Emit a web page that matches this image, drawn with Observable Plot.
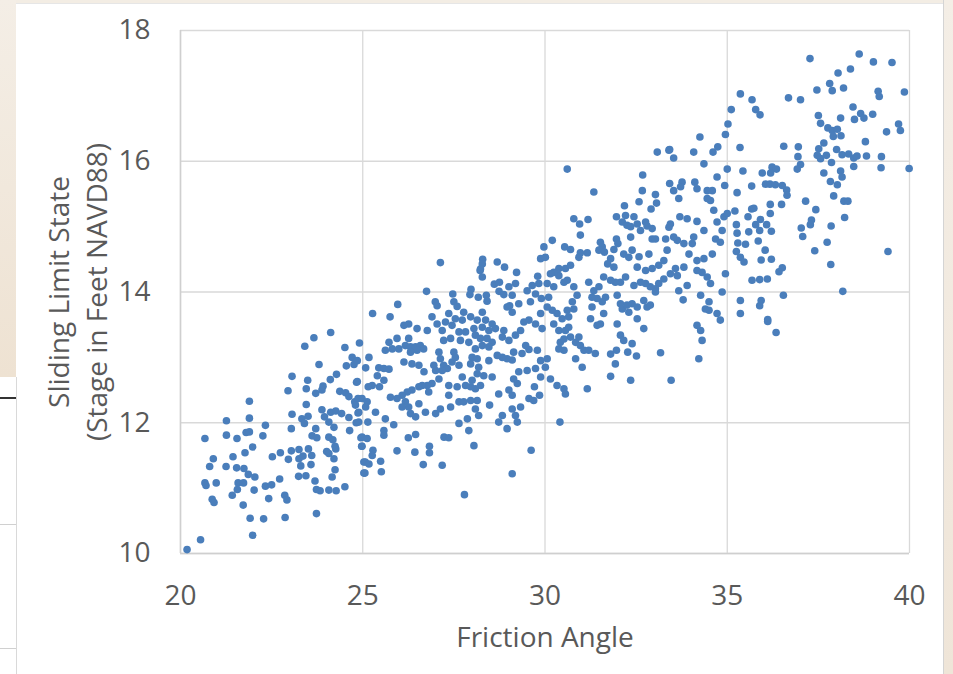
<!DOCTYPE html>
<html>
<head>
<meta charset="utf-8">
<script src="https://cdn.jsdelivr.net/npm/d3@7"></script>
<script src="https://cdn.jsdelivr.net/npm/@observablehq/plot@0.6"></script>
<style>
  html, body { margin: 0; padding: 0; }
  body { width: 953px; height: 674px; position: relative; overflow: hidden; background: #ffffff; font-family: "Open Sans", sans-serif; }
  .deco { position: absolute; }
  #chart { position: absolute; left: 0; top: 0; }
</style>
</head>
<body>
<div class="deco" style="left:0;top:0;width:953px;height:3px;background:#f3ede4;"></div>
<div class="deco" style="left:0;top:0;width:16px;height:377px;background:linear-gradient(to bottom,#f4eee6,#eee2d2);"></div>
<div class="deco" style="left:944px;top:0;width:9px;height:674px;background:linear-gradient(to bottom,#f4eee6,#efe5d8);"></div>
<div class="deco" style="left:943px;top:0;width:1px;height:674px;background:#d4d4d4;"></div>
<div class="deco" style="left:16px;top:3px;width:927px;height:1px;background:#e6e6e6;"></div>
<div class="deco" style="left:16px;top:377px;width:1px;height:297px;background:#d9d9d9;"></div>
<div class="deco" style="left:0;top:397px;width:16px;height:2px;background:#333333;"></div>
<div class="deco" style="left:0;top:524px;width:16px;height:1px;background:#d0d0d0;"></div>
<div class="deco" style="left:0;top:648px;width:16px;height:1px;background:#d0d0d0;"></div>
<div id="chart"></div>
<script>
// Tick values
const xTicks = [20, 25, 30, 35, 40];
const yTicks = [10, 12, 14, 16, 18];
const xTitle = "Friction Angle";
const yTitle = "Sliding Limit State\n(Stage in Feet NAVD88)";

// [friction angle, sliding limit state], by region
const lowerLeft = [
[20.18,10.06],[20.55,10.21],[20.67,11.76],[20.90,11.45],[20.80,11.33],[20.67,11.08],[20.70,11.04],[20.98,11.08],[20.87,10.83],[20.92,10.78],
[21.26,12.03],[21.26,11.81],[21.55,11.76],[21.44,11.48],[21.25,11.33],[21.54,11.31],[21.74,11.30],[21.58,11.08],[21.73,11.08],[21.56,10.98],
[21.42,10.89],[21.72,10.74],[21.86,11.21],[22.04,11.17],[22.02,10.97],[21.91,10.54],[21.98,10.28],[22.28,10.53],[21.89,12.33],[21.89,12.07],
[21.80,11.85],[21.89,11.86],[21.98,11.63],[21.77,11.54],[22.33,11.96],[22.26,11.80],[22.52,11.48],[22.74,11.54],[22.33,11.03],[22.50,11.05],
[22.72,11.14],[22.42,10.84],[22.86,10.89],[22.92,10.82],[22.87,10.55],[22.96,11.44],[23.06,12.71],[22.95,12.49],[23.06,12.13],[23.04,11.91],
[23.04,11.57],[23.25,11.59],[23.25,11.45],[23.36,11.49],[23.30,11.34],[23.24,11.18],[23.44,11.19],[23.58,11.36],[23.60,11.50],[23.51,11.60],
[23.49,12.65],[23.45,12.52],[23.45,12.28],[23.33,12.06],[23.40,11.99],[23.50,12.10],[23.71,11.91],[23.61,11.80],[23.74,11.77],[23.69,11.11],
[23.73,10.98],[23.83,10.96],[23.73,10.61],[23.71,12.45],[23.88,12.50],[23.91,12.56],[24.11,12.66],[24.28,12.74],[23.88,12.20],[23.95,12.09],
[24.12,12.16],[24.26,12.18],[24.07,12.01],[24.21,11.93],[24.07,11.78],[24.18,11.74],[24.24,11.64],[24.26,11.60],[24.01,11.56],[24.07,11.53],
[24.21,11.45],[24.24,11.28],[24.16,11.17],[24.07,10.97],[24.27,10.96],[24.51,11.02],[24.42,12.14],[24.62,12.08],[24.64,11.88],[24.37,12.48],
[24.53,12.46],[24.62,12.40],[24.78,12.32],[24.83,12.62],[24.87,12.37],[24.87,12.15],[24.82,12.00],[24.95,11.77],[24.97,11.64],[25.03,11.40],[25.03,11.23],
[24.12,13.38],[23.66,13.30],[23.41,13.17],[24.51,13.15],[24.71,13.00],[24.55,12.87],[24.76,12.89],[23.80,12.89]
];

const middle = [
[26.75,14.01],[27.47,13.97],[27.97,14.04],[27.94,13.96],[28.17,13.92],[28.39,13.95],[28.41,13.86],[28.22,14.33],[28.28,14.23],[28.61,14.12],
[28.75,14.15],[28.74,14.01],[28.87,13.96],[29.01,14.08],[29.19,14.13],[29.22,14.30],[29.10,13.95],[29.51,14.02],[29.65,14.10],[29.80,14.24],
[29.83,14.13],[29.74,13.97],[29.90,13.90],[29.60,13.85],[29.28,13.82],[29.03,13.79],[29.10,13.69],[28.96,13.77],[25.96,13.81],[25.27,13.67],
[25.75,13.62],[26.99,13.85],[27.04,13.79],[27.50,13.85],[27.59,13.78],[27.77,13.69],[27.36,13.67],[26.90,13.62],[27.04,13.51],[27.27,13.54],
[27.45,13.49],[27.54,13.59],[27.73,13.57],[27.96,13.62],[28.14,13.57],[28.28,13.69],[28.37,13.57],[28.55,13.51],[28.64,13.44],[28.46,13.41],
[28.28,13.46],[28.05,13.44],[27.82,13.39],[27.64,13.39],[27.18,13.41],[26.77,13.41],[26.49,13.44],[26.26,13.51],[26.13,13.49],[26.26,13.29],
[25.94,13.29],[25.72,13.23],[25.81,13.13],[25.62,13.11],[24.91,13.22],[25.17,13.00],[24.85,12.95],[25.08,12.84],[25.44,12.84],[25.58,12.83],
[25.72,12.82],[25.40,12.72],[25.58,12.65],[25.46,12.55],[25.26,12.57],[25.15,12.55],[24.85,12.63],[24.98,12.37],[25.12,12.32],[24.80,12.27],
[25.08,12.24],[25.35,12.16],[24.89,12.16],[24.89,12.01],[25.14,12.01],[25.62,12.06],[25.85,11.97],[25.58,11.88],[25.58,11.81],[24.98,11.78],
[25.12,11.76],[24.98,11.64],[25.28,11.58],[25.26,11.50],[25.07,11.40],[25.17,11.37],[25.06,11.23],[25.49,11.41],[25.51,11.25],[25.94,11.57],
[26.25,11.77],[26.45,11.82],[26.43,11.55],[26.83,11.64],[26.83,11.54],[26.66,11.36],[27.18,11.35],[27.23,11.78],[27.36,11.77],[25.99,13.13],
[26.17,13.18],[26.31,13.16],[26.45,13.16],[26.58,13.18],[26.67,13.13],[26.49,13.11],[26.31,13.08],[26.13,12.93],[26.35,12.90],[26.54,12.88],
[26.68,12.78],[26.95,12.88],[27.00,12.80],[27.09,13.08],[27.13,12.98],[27.22,12.88],[27.32,12.83],[27.45,12.93],[27.50,13.08],[27.54,13.00],
[27.64,12.88],[27.22,13.26],[27.41,13.29],[27.68,13.26],[27.91,13.23],[28.09,13.34],[28.23,13.29],[28.41,13.29],[28.55,13.23],[28.46,13.16],
[28.28,13.18],[28.87,13.41],[28.83,13.31],[29.01,13.26],[29.19,13.34],[29.33,13.41],[29.42,13.54],[29.56,13.57],[29.74,13.51],[29.88,13.67],
[29.92,13.44],[28.00,13.00],[28.14,12.98],[28.09,13.13],[27.96,12.90],[27.73,12.70],[27.82,12.57],[28.00,12.65],[28.14,12.75],[28.32,12.72],
[28.55,12.70],[28.23,12.57],[28.09,12.52],[27.96,12.55],[27.59,12.55],[27.36,12.57],[27.18,12.80],[27.09,12.67],[26.90,12.60],[26.77,12.57],
[26.81,12.47],[26.63,12.57],[26.54,12.55],[26.35,12.50],[26.22,12.47],[26.08,12.42],[25.94,12.37],[25.76,12.39],[26.17,12.32],[26.26,12.24],
[26.08,12.24],[26.31,12.14],[26.45,12.09],[26.54,12.29],[26.72,12.16],[27.00,12.14],[27.13,12.21],[27.36,12.42],[27.41,12.24],[27.64,12.32],
[27.77,12.32],[27.96,12.34],[28.14,12.34],[28.09,12.21],[28.18,12.11],[27.87,12.06],[27.64,11.99],[27.91,11.88],[28.05,11.65],[28.48,12.27],
[28.73,12.44],[28.83,12.11],[28.73,12.01],[28.96,11.91],[29.10,12.21],[29.19,12.11],[29.24,12.01],[29.33,12.24],[29.01,12.50],[29.10,12.42],
[29.24,12.60],[29.14,12.67],[29.28,12.78],[29.51,12.80],[29.56,12.37],[29.69,12.34],[29.71,12.55],[29.85,12.42],[29.88,12.70],[29.74,12.83],
[29.88,12.95],[29.79,13.11],[29.56,13.12],[29.37,13.06],[29.14,13.08],[29.10,12.96],[28.96,12.98],[28.83,13.00],[28.69,13.03],[29.47,13.18],
[29.62,11.58],[29.10,11.22],[27.79,10.90],[28.46,12.95],[28.18,12.85],
[27.13,14.45],[28.29,14.50],[28.28,14.43],[28.23,14.35],[28.69,14.46],[28.89,14.38]
];

const upperMiddle = [
[30.61,15.88],[31.34,15.53],[30.79,15.12],[30.95,15.04],[31.18,15.11],[30.97,14.87],[30.20,14.79],[29.97,14.69],[29.88,14.51],[30.01,14.53],
[30.54,14.69],[30.70,14.65],[30.97,14.60],[31.16,14.60],[30.93,14.53],[31.52,14.76],[31.57,14.69],[31.48,14.64],[31.63,14.61],[31.80,14.51],
[31.72,14.43],[31.89,14.38],[31.96,14.81],[32.00,14.74],[31.89,14.65],[31.96,15.15],[32.18,15.32],[32.21,15.17],[32.12,15.07],[32.25,15.02],
[32.44,15.15],[32.35,15.00],[32.53,15.04],[32.62,14.94],[32.76,15.07],[32.80,15.01],[32.58,15.38],[32.67,15.55],[32.68,15.79],[33.03,15.49],
[33.06,15.36],[32.91,15.27],[32.94,14.97],[32.94,14.81],[33.03,14.81],[32.35,14.84],[32.39,14.64],[32.16,14.58],[32.30,14.53],[32.58,14.54],
[32.85,14.58],[32.53,14.38],[32.76,14.33],[32.94,14.36],[33.12,14.41],[33.26,14.48],[33.35,14.64],[33.31,14.81],[33.44,15.04],[33.40,14.99],
[33.63,14.79],[33.53,14.84],[33.70,15.15],[33.90,15.12],[34.17,15.08],[34.36,14.94],[34.08,14.84],[34.04,14.74],[33.81,14.74],[33.95,14.58],
[34.17,14.48],[34.36,14.51],[34.59,14.58],[34.68,14.81],[34.81,14.76],[34.86,14.94],[34.72,15.07],[34.91,15.15],[35.00,15.20],[34.63,15.25],
[34.54,15.40],[34.45,15.43],[34.59,15.55],[34.72,15.76],[34.93,15.63],[35.00,15.88],[34.45,15.55],[34.17,15.58],[34.11,15.68],[33.67,15.43],
[33.53,15.55],[33.42,15.66],[33.76,15.68],[33.72,15.61],[33.08,16.14],[33.40,16.17],[33.53,16.05],[34.08,16.14],[34.36,15.96],[34.61,16.14],
[34.95,14.28],[34.86,14.00],[34.72,13.67],[34.81,13.57],[34.50,13.72],[34.40,13.74],[34.27,13.95],[34.50,13.85],[34.54,14.13],[34.45,14.23],
[34.31,14.30],[34.17,14.33],[34.17,13.49],[34.27,13.41],[34.31,13.26],[34.22,12.98],[33.90,14.10],[33.81,14.38],[33.63,14.25],[33.67,14.02],
[33.79,13.88],[33.58,14.36],[33.44,14.28],[33.26,14.20],[33.12,14.13],[33.03,14.05],[33.03,14.00],[32.89,14.08],[32.76,14.13],[32.62,14.15],
[32.44,14.10],[32.21,14.23],[32.07,14.15],[31.93,14.15],[31.80,14.18],[31.61,14.23],[31.48,14.08],[31.34,14.02],[31.20,14.15],[31.66,13.92],
[31.57,13.85],[31.98,13.95],[32.07,13.82],[32.12,13.74],[32.25,13.80],[32.39,13.82],[32.53,13.77],[32.30,13.69],[32.53,13.59],[32.71,13.87],
[32.80,13.77],[32.89,13.80],[31.98,13.51],[32.07,13.34],[32.16,13.26],[32.39,13.21],[32.27,13.08],[31.96,13.11],[31.80,13.05],[31.93,12.90],
[31.80,12.71],[32.35,12.65],[32.51,13.02],[32.71,13.44],[33.17,13.07],[33.46,12.65],[31.16,12.52],[31.61,13.67],[31.43,13.49],[31.29,13.77],
[31.25,13.59],[31.43,13.90],[31.29,13.92],[30.88,13.95],[30.79,14.08],[30.61,14.18],[30.52,14.15],[30.75,13.85],[30.79,13.74],[30.61,13.72],
[30.65,13.62],[30.47,13.59],[30.33,13.67],[30.24,14.08],[30.38,14.25],[30.56,14.36],[30.70,14.41],[30.38,14.36],[30.24,14.30],[30.15,14.28],
[30.24,13.51],[30.38,13.41],[30.56,13.41],[30.70,13.31],[30.84,13.23],[30.93,13.31],[30.97,13.18],[31.07,13.11],[31.20,13.11],[31.38,13.06],
[30.84,12.98],[31.02,12.85],[30.65,13.46],[30.42,13.23],[30.52,13.28],[30.52,13.11],[30.38,13.13],[31.52,13.51],[30.15,12.67],[30.33,12.57],
[30.52,12.52],[30.56,12.44],[30.01,12.85],[30.06,12.98],[30.06,14.13],[30.10,13.92],[30.06,13.77],[30.20,13.72],
[30.41,12.01],[34.25,16.37],[33.42,16.18],[34.74,16.22],[34.95,16.41],[35.02,16.57]
];

const upperRight = [
[37.27,17.57],[38.62,17.64],[39.01,17.52],[39.52,17.51],[38.04,17.35],[38.38,17.41],[37.81,17.19],[37.88,17.08],[38.19,17.12],[37.46,17.09],
[35.36,17.03],[35.68,16.94],[35.78,16.79],[35.90,16.71],[36.68,16.97],[37.01,16.94],[39.14,17.07],[39.17,16.99],[39.86,17.06],[35.11,16.79],
[38.45,16.83],[38.66,16.73],[38.75,16.66],[38.99,16.72],[38.49,16.64],[38.11,16.66],[37.50,16.70],[37.56,16.58],[37.76,16.51],[37.88,16.47],
[38.02,16.49],[37.91,16.38],[38.12,16.39],[39.70,16.57],[39.75,16.47],[39.37,16.45],[38.79,16.30],[37.65,16.28],[37.51,16.19],[37.47,16.09],
[37.56,16.04],[37.72,16.09],[38.00,16.18],[38.15,16.10],[38.33,16.11],[38.47,16.05],[38.56,16.08],[38.82,16.08],[39.23,16.07],[36.55,16.23],
[36.95,16.22],[36.94,16.07],[35.35,16.21],[37.86,15.98],[38.47,15.92],[39.22,15.90],[39.99,15.89],[37.01,15.95],[36.92,15.88],[36.23,15.91],
[36.35,15.88],[35.43,15.85],[35.96,15.82],[36.19,15.82],[37.65,15.82],[38.11,15.85],[38.15,15.76],[37.83,15.69],[38.02,15.64],[36.05,15.65],
[36.17,15.65],[36.32,15.64],[36.51,15.63],[36.63,15.56],[36.64,15.48],[36.49,15.34],[35.67,15.62],[35.27,15.52],[37.92,15.47],[38.20,15.39],
[38.31,15.39],[37.15,15.39],[37.43,15.26],[36.18,15.34],[36.18,15.20],[35.67,15.27],[35.73,15.28],[35.21,15.24],[35.57,15.15],[35.91,15.11],
[36.08,15.03],[35.78,15.03],[35.25,15.03],[35.27,14.90],[35.59,14.92],[35.89,14.94],[36.21,14.93],[35.85,14.78],[35.50,14.73],[35.29,14.75],
[35.25,14.62],[35.36,14.53],[35.46,14.46],[36.04,14.64],[35.93,14.49],[36.21,14.50],[38.22,15.14],[37.31,15.10],[37.28,15.03],[37.03,14.98],
[37.07,14.85],[37.85,15.01],[37.74,14.76],[37.40,14.63],[39.41,14.62],[36.51,14.37],[36.42,14.31],[37.84,14.42],[35.68,14.18],[35.89,14.19],
[36.10,14.20],[38.17,14.01],[36.54,13.95],[35.93,13.87],[35.89,13.79],[35.36,13.87],[35.36,13.67],[36.11,13.58],[36.11,13.55],[36.34,13.38]
];

const points = [...lowerLeft, ...middle, ...upperMiddle, ...upperRight]
  .map(([angle, stage]) => ({angle, stage}));

const ink = "#595959";
const gridColor = "#d9d9d9";

const chart = Plot.plot({
  width: 953,
  height: 674,
  marginLeft: 180,
  marginRight: 44,
  marginTop: 30,
  marginBottom: 121,
  style: {
    background: "transparent",
    fontFamily: "'Open Sans', sans-serif",
    fontSize: "28px",
    color: ink,
    overflow: "visible"
  },
  x: {
    domain: [20, 40],
    ticks: xTicks,
    tickSize: 0,
    tickPadding: 32,
    tickFormat: d => String(d),
    label: null,
    line: false
  },
  y: {
    domain: [10, 18],
    ticks: yTicks,
    tickSize: 0,
    tickPadding: 30,
    tickFormat: d => String(d),
    label: null,
    line: false
  },
  marks: [
    Plot.ruleX(xTicks, {stroke: gridColor, strokeWidth: 1.3}),
    Plot.ruleY(yTicks, {stroke: gridColor, strokeWidth: 1.3}),
    Plot.ruleX([xTicks[0]], {stroke: "#cfcfcf", strokeWidth: 1.5}),
    Plot.ruleY([yTicks[0]], {stroke: "#cfcfcf", strokeWidth: 1.5}),
    Plot.dot(points, {x: "angle", y: "stage", r: 3.8, fill: "#4a7ebb", stroke: "none"}),
    Plot.text([xTitle], {frameAnchor: "bottom", dy: 93, fill: ink, fontSize: 28, textAnchor: "middle"}),
    Plot.text([yTitle], {frameAnchor: "left", dx: -105, rotate: -90, fill: ink, fontSize: 28, lineHeight: 1.38, textAnchor: "middle"})
  ]
});
document.getElementById("chart").appendChild(chart);
</script>
</body>
</html>
